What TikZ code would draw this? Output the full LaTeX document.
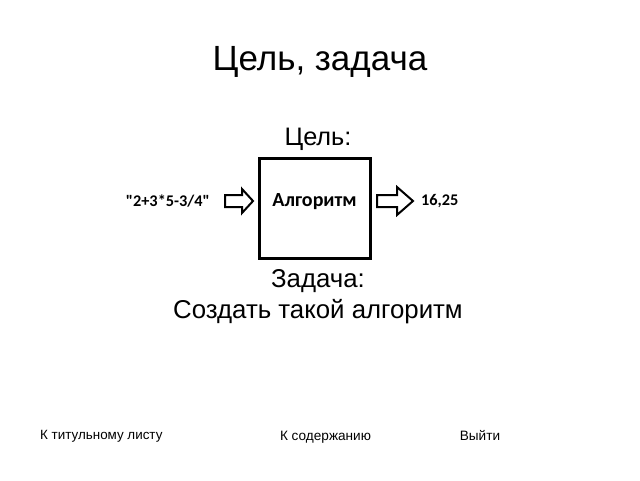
\documentclass[tikz,border=0pt]{standalone}
\usepackage{fontspec}
\setmainfont{Liberation Sans}
\newfontfamily\calib{Carlito}
\begin{document}
\begin{tikzpicture}[x=1pt,y=-1pt,
  txt/.style={inner sep=0pt},
  lbl/.style={inner sep=0pt,font=\calib\bfseries\fontsize{16.3}{20}\selectfont},
  blockarrow/.style={draw,line width=2pt,line join=miter}]
\useasboundingbox (0,0) rectangle (640,480);
\node[txt,font=\fontsize{35}{42}\selectfont] (title) at (320,62) {Цель, задача};
\node[txt,font=\fontsize{25.3}{30}\selectfont] (goal) at (318,139) {Цель:};
\node[draw,line width=3pt,minimum width=111,minimum height=100,inner sep=0pt] (alg) at (314.5,208.8) {};
\node[txt,font=\calib\bfseries\fontsize{20}{24}\selectfont] (algtxt) at ([yshift=7.5pt]alg.center) {Алгоритм};
\node[lbl,anchor=east] (in) at (210,201) {"2+3*5-3/4"};
\node[lbl,anchor=west] (out) at (421,201) {16,25};
\coordinate (a1) at (225,201);
\coordinate (a2) at (377,201);
\draw[blockarrow] (a1) ++(0,-6) -- ++(17,0) -- ++(0,-6) -- ++(11,12) -- ++(-11,12) -- ++(0,-6) -- ++(-17,0) -- cycle;
\draw[blockarrow] (a2) ++(0,-6) -- ++(20,0) -- ++(0,-8) -- ++(16,14) -- ++(-16,14) -- ++(0,-8) -- ++(-20,0) -- cycle;
\node[txt,font=\fontsize{25.8}{31}\selectfont,align=center] (task) at (318,297) {Задача:\\Создать такой алгоритм};
\node[txt,font=\fontsize{13.4}{16}\selectfont,anchor=west] (b1) at (40,436) {К титульному листу};
\node[txt,font=\fontsize{13.6}{16}\selectfont] (b2) at (325.5,437) {К содержанию};
\node[txt,font=\fontsize{13.6}{16}\selectfont] (b3) at (480,435) {Выйти};
\end{tikzpicture}
\end{document}
